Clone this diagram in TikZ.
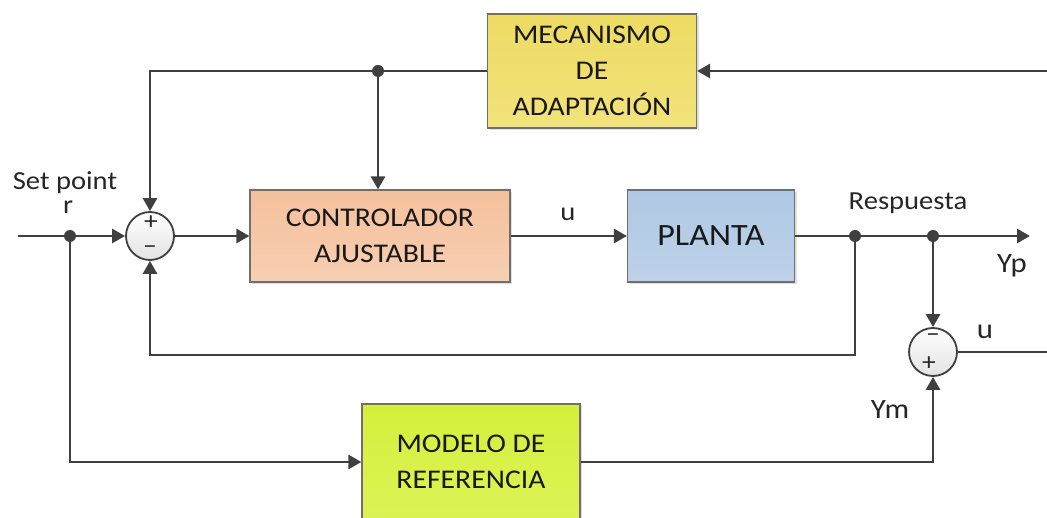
\documentclass[tikz,border=0pt]{standalone}
\usepackage{fontspec}
\setmainfont{Carlito}[FakeStretch=1.1]
\usetikzlibrary{arrows.meta,positioning,shadows}
\definecolor{trazo}{HTML}{3F3F3F}
\definecolor{borde}{HTML}{6F6F6F}
\definecolor{amarilloA}{HTML}{EDDB62}
\definecolor{amarilloB}{HTML}{F2E37C}
\definecolor{salmonA}{HTML}{F4C09C}
\definecolor{salmonB}{HTML}{F8CFB2}
\definecolor{azulA}{HTML}{AFC8E3}
\definecolor{azulB}{HTML}{BDD2E9}
\definecolor{limaA}{HTML}{D6EF3C}
\definecolor{limaB}{HTML}{DDF356}
\begin{document}
\begin{tikzpicture}[x=1pt,y=-1pt,
    bloque/.style={draw=borde, line width=1.2pt, align=center, inner sep=0pt,
      font=\fontsize{27}{36}\selectfont, text=black!90,
      drop shadow={opacity=0.25, shadow xshift=2pt, shadow yshift=-2pt}},
    suma/.style={circle, draw=trazo, line width=1.8pt, minimum size=48pt,
      inner sep=0pt, top color=white, bottom color=gray!22},
    signo/.style={font=\fontsize{25}{25}\selectfont, text=black!85, inner sep=0pt},
    flecha/.style={draw=trazo, line width=2.8pt, -{Triangle[length=13pt,width=14pt]}},
    linea/.style={draw=trazo, line width=2.8pt},
    punto/.style={circle, fill=trazo, inner sep=0pt, minimum size=12pt},
    etiqueta/.style={font=\fontsize{26}{28}\selectfont, text=black!85, inner sep=0pt}]
  \useasboundingbox (0,0) rectangle (1047,518);
  \clip (0,0) rectangle (1047,518);
  % bloques
  \node[bloque, minimum width=209pt, minimum height=114pt,
    top color=amarilloA, bottom color=amarilloB] (adapt) at (592,71)
    {MECANISMO\\DE\\ADAPTACIÓN};
  \node[bloque, minimum width=260pt, minimum height=92pt,
    top color=salmonA, bottom color=salmonB] (ctrl) at (380,236)
    {CONTROLADOR\\AJUSTABLE};
  \node[bloque, minimum width=167pt, minimum height=92pt,
    top color=azulA, bottom color=azulB, font=\fontsize{31}{36}\selectfont] (planta) at (711,236)
    {PLANTA};
  \node[bloque, minimum width=218pt, minimum height=116pt,
    top color=limaA, bottom color=limaB] (modelo) at (471,462)
    {MODELO DE\\REFERENCIA};
  % sumadores
  \node[suma] (s1) at (150,236) {};
  \node[suma] (s2) at (933,352) {};
  \node[signo] (s1mas) at (151,223) {+};
  \node[signo] (s1menos) at (150,250) {–};
  \node[signo] (s2menos) at (933,338) {–};
  \node[signo] (s2mas) at (929,364) {+};
  % puntos de bifurcacion
  \coordinate (ent) at (18,236);
  \coordinate (entA) at (1047,71);
  \coordinate (sal) at (1030,236);
  \coordinate (salU) at (1047,352);
  \node[punto] (r) at (70,236) {};
  \node[punto] (p1) at (378,71) {};
  \node[punto] (p2) at (855,236) {};
  \node[punto] (p3) at (933,236) {};
  % conexiones
  \draw[flecha] (ent) -- (s1.west);
  \draw[flecha] (s1.east) -- (ctrl.west);
  \draw[flecha] (ctrl.east) -- (planta.west);
  \draw[flecha] (planta.east) -- (sal);
  \draw[flecha] (entA) -- (adapt.east);
  \draw[flecha] (adapt.west) -| (s1.north);
  \draw[flecha] (p1) -- (p1 |- ctrl.north);
  \draw[flecha] (p2) -- (855,355) -| (s1.south);
  \draw[flecha] (p3) -- (s2.north);
  \draw[linea] (s2.east) -- (salU);
  \draw[flecha] (r) |- (modelo.west);
  \draw[flecha] (modelo.east) -| (s2.south);
  % textos
  \node[etiqueta] (tsp) at (65,183) {Set point};
  \node[etiqueta] (tr) at (68,207) {r};
  \node[etiqueta] (tu1) at (568,214) {u};
  \node[etiqueta] (tresp) at (908,203) {Respuesta};
  \node[etiqueta, font=\fontsize{28}{28}\selectfont] (typ) at (1012,266) {Yp};
  \node[etiqueta, font=\fontsize{28}{28}\selectfont] (tu2) at (985,332) {u};
  \node[etiqueta, font=\fontsize{28}{28}\selectfont] (tym) at (890,410) {Ym};
\end{tikzpicture}
\end{document}
